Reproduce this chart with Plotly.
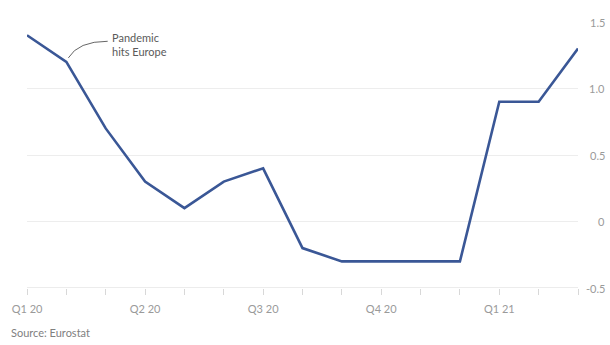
import plotly.graph_objects as go

# Euro area annual inflation, monthly, Jan 2020 - Mar 2021 (%)
months = ["Jan 20", "Feb 20", "Mar 20", "Apr 20", "May 20", "Jun 20", "Jul 20",
          "Aug 20", "Sep 20", "Oct 20", "Nov 20", "Dec 20", "Jan 21", "Feb 21", "Mar 21"]
inflation = [1.4, 1.2, 0.7, 0.3, 0.1, 0.3, 0.4, -0.2, -0.3, -0.3, -0.3, -0.3, 0.9, 0.9, 1.3]

quarter_labels = ["Q1 20", "Q2 20", "Q3 20", "Q4 20", "Q1 21"]
y_ticks = [-0.5, 0, 0.5, 1.0, 1.5]
y_tick_text = ["-0.5", "0", "0.5", "1.0", "1.5"]

x_idx = list(range(len(months)))

LINE = "#3a5796"
GRID = "#ededed"
TEXT = "#9a9a9a"
FONT = "Lato"

fig = go.Figure()
fig.add_trace(go.Scatter(
    x=x_idx, y=inflation, mode="lines",
    line=dict(color=LINE, width=2.6),
    hoverinfo="skip", showlegend=False,
))

# right-aligned y tick labels
annotations = []
for v, t in zip(y_ticks, y_tick_text):
    annotations.append(dict(
        x=1.0, xref="paper", xshift=29, y=v, yref="y", text=t, showarrow=False,
        xanchor="right", yanchor="middle",
        font=dict(family=FONT, size=11, color=TEXT),
    ))

# callout for the pandemic onset
feb_x, feb_y = x_idx[1], inflation[1]
annotations.append(dict(
    x=2.12, y=1.445, xref="x", yref="y", text="Pandemic<br>hits Europe",
    showarrow=False, xanchor="left", yanchor="top", align="left",
    font=dict(family=FONT, size=11, color="#5a5a5a"),
))
annotations.append(dict(
    x=0, y=-0.2, xref="paper", yref="paper", xshift=-18,
    text="Source: Eurostat", showarrow=False, xanchor="left", yanchor="bottom",
    font=dict(family=FONT, size=11, color="#808080"),
))

shapes = [dict(
    type="path",
    path=f"M 2.05,1.355 Q 1.3,1.355 {feb_x + 0.05},{feb_y + 0.03}",
    xref="x", yref="y",
    line=dict(color="#666666", width=1),
)]

fig.update_layout(
    width=610, height=345,
    margin=dict(l=27, r=32, t=22, b=57),
    paper_bgcolor="white", plot_bgcolor="white",
    annotations=annotations, shapes=shapes,
    xaxis=dict(
        range=[0, len(months) - 1],
        tickmode="array", tickvals=x_idx,
        ticktext=[quarter_labels[i // 3] if i % 3 == 0 else "" for i in x_idx],
        ticks="outside", ticklen=6, tickcolor="#d8d8d8", tickwidth=1,
        ticklabelstandoff=5,
        showline=False, showgrid=False, zeroline=False,
        tickfont=dict(family=FONT, size=11, color=TEXT),
        fixedrange=True,
    ),
    yaxis=dict(
        range=[-0.5, 1.5], side="right",
        tickvals=y_ticks, showticklabels=False,
        showgrid=True, gridcolor=GRID, gridwidth=1,
        zeroline=False, showline=False, fixedrange=True,
    ),
)
# darker baseline at the bottom of the plot
fig.add_hline(y=-0.5, line=dict(color="#d8d8d8", width=1), layer="below")

fig.write_html("out.html")
